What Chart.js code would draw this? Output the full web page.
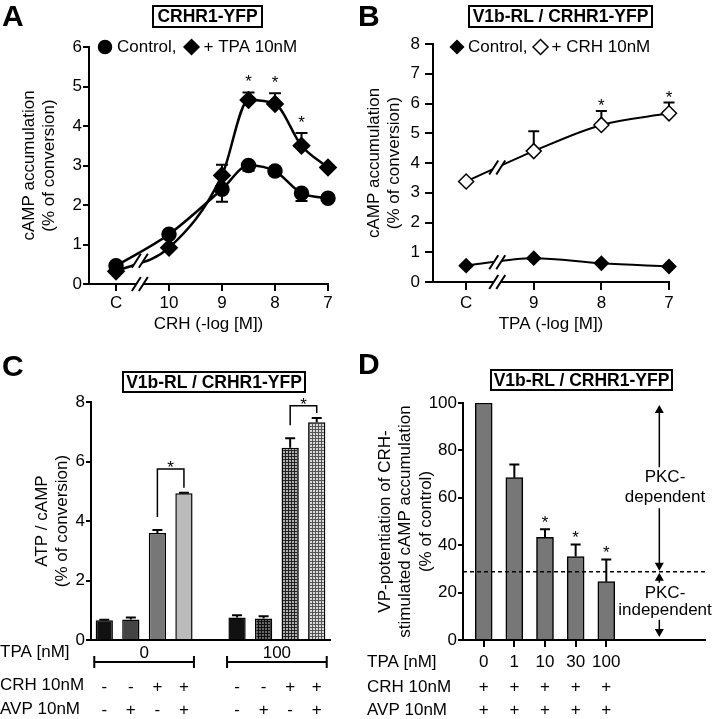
<!DOCTYPE html>
<html>
<head>
<meta charset="utf-8">
<title>CRHR1 / V1b cAMP</title>
<script src="https://cdn.jsdelivr.net/npm/chart.js@4.4.1/dist/chart.umd.min.js"></script>
<style>
  body { margin: 0; background: #fff; font-family: "Liberation Sans", Arial, sans-serif; }
  #fig { position: relative; width: 714px; height: 719px; overflow: hidden; }
  canvas { position: absolute; }
  .letter { position: absolute; font-size: 30px; font-weight: bold; line-height: 30px; }
  .box { position: absolute; box-sizing: border-box; border: 2px solid #000; font-size: 17.5px; font-weight: bold;
         display: flex; align-items: center; justify-content: center; white-space: nowrap; }
</style>
</head>
<body>
<div id="fig">
  <canvas id="chartA" width="357" height="345" style="left:0;top:0"></canvas>
  <canvas id="chartB" width="357" height="345" style="left:357px;top:0"></canvas>
  <canvas id="chartC" width="357" height="374" style="left:0;top:345px"></canvas>
  <canvas id="chartD" width="357" height="374" style="left:357px;top:345px"></canvas>
  <div class="letter" style="left:2px;top:1px">A</div>
  <div class="letter" style="left:358px;top:1px">B</div>
  <div class="letter" style="left:2px;top:351px">C</div>
  <div class="letter" style="left:358px;top:349px">D</div>
  <div class="box" style="left:152px;top:5px;width:111px;height:23px">CRHR1-YFP</div>
  <div class="box" style="left:468px;top:5px;width:185px;height:23px">V1b-RL / CRHR1-YFP</div>
  <div class="box" style="left:122px;top:371px;width:184px;height:22px">V1b-RL / CRHR1-YFP</div>
  <div class="box" style="left:490px;top:369px;width:183px;height:22px">V1b-RL / CRHR1-YFP</div>
</div>
<script>
// ---------- data ----------
// A: CRH dose-response, x = -log[M]; 11 stands for "C" (no CRH)
const aDose = [11, 10, 9, 8.5, 8, 7.5, 7];
const aTicks = [11, 10, 9, 8, 7];
const aTickLabels = ['C', '10', '9', '8', '7'];
const aControl = [0.46, 1.26, 2.4, 3.0, 2.86, 2.3, 2.17];
const aControlSem = [0, 0, 0.32, 0.13, 0, 0.2, 0];
const aTPA = [0.32, 0.92, 2.75, 4.66, 4.56, 3.5, 2.95];
const aTPASem = [0, 0, 0.27, 0.19, 0.27, 0.32, 0];
const aSig = ['', '', '', '*', '*', '*', ''];

// B: TPA dose-response, x = -log[M]; 10 stands for "C"
const bDose = [10, 9, 8, 7];
const bTicks = [10, 9, 8, 7];
const bTickLabels = ['C', '9', '8', '7'];
const bControl = [0.55, 0.8, 0.63, 0.52];
const bCRH = [3.38, 4.4, 5.28, 5.67];
const bCRHSem = [0, 0.67, 0.47, 0.36];
const bSig = ['', '', '*', '*'];

// C: bars, empty slot between the two TPA groups
const cTPA = ['0', '0', '0', '0', null, '100', '100', '100', '100'];
const cCRH = ['-', '-', '+', '+', null, '-', '-', '+', '+'];
const cAVP = ['-', '+', '-', '+', null, '-', '+', '-', '+'];
const cValues = [0.66, 0.69, 3.6, 4.93, null, 0.76, 0.72, 6.46, 7.32];
const cSem = [0.02, 0.07, 0.1, 0.02, 0, 0.07, 0.08, 0.32, 0.14];
const cPairs = [[2, 3], [7, 8]];
const cPairLevels = [5.75, 7.87];

// D: % of control
const dTPA = ['0', '1', '10', '30', '100'];
const dCRH = ['+', '+', '+', '+', '+'];
const dAVP = ['+', '+', '+', '+', '+'];
const dValues = [100, 68.5, 43.3, 35.2, 24.6];
const dSem = [0, 5.6, 3.4, 5.1, 9.4];
const dSig = ['', '', '*', '*', '*'];
const dCut = 28.8;

// ---------- helpers ----------
const black = '#000';
const FONT = '"Liberation Sans", Arial, sans-serif';
Chart.defaults.font.family = FONT;
Chart.defaults.font.size = 17;
Chart.defaults.color = black;

function marker(ctx, style, x, y, r, fill) {
  ctx.save();
  ctx.beginPath();
  if (style === 'circle') ctx.arc(x, y, r, 0, Math.PI * 2);
  else { ctx.moveTo(x - r, y); ctx.lineTo(x, y - r); ctx.lineTo(x + r, y); ctx.lineTo(x, y + r); ctx.closePath(); }
  ctx.fillStyle = fill; ctx.fill();
  ctx.lineWidth = 1.5; ctx.strokeStyle = black; ctx.stroke();
  ctx.restore();
}

function drawBreak(ctx, x, y) {
  const dx = 4.5, dy = 7, g = 3.5;
  ctx.save();
  ctx.fillStyle = '#fff';
  ctx.beginPath();
  ctx.moveTo(x - g - dx, y + dy); ctx.lineTo(x - g + dx, y - dy);
  ctx.lineTo(x + g + dx, y - dy); ctx.lineTo(x + g - dx, y + dy);
  ctx.closePath(); ctx.fill();
  ctx.strokeStyle = black; ctx.lineWidth = 2;
  ctx.beginPath();
  ctx.moveTo(x - g - dx, y + dy); ctx.lineTo(x - g + dx, y - dy);
  ctx.moveTo(x + g - dx, y + dy); ctx.lineTo(x + g + dx, y - dy);
  ctx.stroke();
  ctx.restore();
}

function arrowHead(ctx, x, y, dir) {
  ctx.beginPath();
  ctx.moveTo(x, y); ctx.lineTo(x - 4.5, y - dir * 8); ctx.lineTo(x + 4.5, y - dir * 8);
  ctx.closePath(); ctx.fill();
}

const parsedY = (chart, di, i) => chart.getDatasetMeta(di).controller.getParsed(i).y;

// extra drawing; settings live in chart.data.fig (plain object, not resolved by Chart.js)
const figPlugin = {
  id: 'fig',
  beforeDatasetsDraw(chart) {
    const o = chart.data.fig || {};
    const ctx = chart.ctx, ys = chart.scales.y;
    chart.data.datasets.forEach((ds, di) => {
      if (!ds.sem) return;
      ctx.save();
      ctx.strokeStyle = black; ctx.lineWidth = 2;
      chart.getDatasetMeta(di).data.forEach((el, i) => {
        const v = parsedY(chart, di, i), e = ds.sem[i];
        if (v == null || isNaN(v) || !e) return;
        const y0 = ys.getPixelForValue(v), y1 = ys.getPixelForValue(v + (ds.semDir || 1) * e);
        const h = (o.cap || 11) / 2;
        ctx.beginPath();
        ctx.moveTo(el.x, y0); ctx.lineTo(el.x, y1);
        ctx.moveTo(el.x - h, y1); ctx.lineTo(el.x + h, y1);
        ctx.stroke();
      });
      ctx.restore();
    });
  },
  afterDraw(chart) {
    const o = chart.data.fig || {};
    const ctx = chart.ctx, xs = chart.scales.x, ys = chart.scales.y, area = chart.chartArea;
    ctx.save();
    ctx.fillStyle = black; ctx.strokeStyle = black;
    ctx.font = '17px ' + FONT;

    // significance stars above the error bars
    chart.data.datasets.forEach((ds, di) => {
      if (!ds.sig) return;
      ctx.textAlign = 'center'; ctx.textBaseline = 'alphabetic';
      chart.getDatasetMeta(di).data.forEach((el, i) => {
        if (!ds.sig[i]) return;
        const top = parsedY(chart, di, i) + (ds.sem ? ds.sem[i] : 0);
        ctx.fillText(ds.sig[i], el.x, ys.getPixelForValue(top) - o.starGap + 10);
      });
    });

    // axis / curve breaks
    if (o.breakAt != null) {
      const bx = xs.getPixelForValue(o.breakAt);
      const cuts = [area.bottom];
      (o.breakLines || []).forEach(di => {
        const d = chart.data.datasets[di].data;
        const t = (o.breakAt - d[0].x) / (d[1].x - d[0].x);
        cuts.push(ys.getPixelForValue(d[0].y + t * (d[1].y - d[0].y)));
      });
      cuts.forEach(cy => drawBreak(ctx, bx, cy));
    }

    // legend line with markers
    if (o.legend) {
      let x = o.legend.x;
      ctx.textAlign = 'left'; ctx.textBaseline = 'middle';
      chart.data.datasets.forEach(ds => {
        marker(ctx, ds.pointStyle, x, o.legend.y, ds.pointRadius, ds.pointBackgroundColor);
        x += o.legend.textGap;
        ctx.fillText(ds.label, x, o.legend.y);
        x += ctx.measureText(ds.label).width + o.legend.itemGap;
      });
    }

    // significance brackets (C)
    if (o.pairs) {
      const pts = chart.getDatasetMeta(0).data, ds = chart.data.datasets[0];
      o.pairs.forEach(([a, b], k) => {
        const top = ys.getPixelForValue(o.levels[k]);
        const la = ys.getPixelForValue(ds.data[a] + ds.sem[a]) - 13;
        const lb = ys.getPixelForValue(ds.data[b] + ds.sem[b]) - 5;
        ctx.lineWidth = 1.5;
        ctx.beginPath();
        ctx.moveTo(pts[a].x, la); ctx.lineTo(pts[a].x, top); ctx.lineTo(pts[b].x, top); ctx.lineTo(pts[b].x, lb);
        ctx.stroke();
        ctx.textAlign = 'center'; ctx.textBaseline = 'alphabetic';
        ctx.fillText('*', (pts[a].x + pts[b].x) / 2, top - 6 + 10);
      });
    }

    // treatment rows under the x axis
    if (o.rows) {
      const pts = chart.getDatasetMeta(0).data;
      ctx.textBaseline = 'middle';
      o.rows.forEach(r => {
        const y = area.bottom + r.dy;
        ctx.textAlign = 'left';
        ctx.fillText(r.label, o.labelX, y);
        if (!r.values) return;
        ctx.textAlign = 'center';
        r.values.forEach((s, i) => { if (s) ctx.fillText(s, pts[i].x, y + (r.signDy || 0)); });
      });
    }
    if (o.groups) {
      const pts = chart.getDatasetMeta(0).data, vals = o.groups.values;
      let i = 0;
      while (i < vals.length) {
        if (!vals[i]) { i++; continue; }
        let j = i;
        while (j + 1 < vals.length && vals[j + 1] === vals[i]) j++;
        const x1 = pts[i].x - 10, x2 = pts[j].x + 10, ly = area.bottom + o.groups.lineDy;
        ctx.lineWidth = 2;
        ctx.beginPath();
        ctx.moveTo(x1, ly); ctx.lineTo(x2, ly);
        ctx.moveTo(x1, ly - 6); ctx.lineTo(x1, ly + 6);
        ctx.moveTo(x2, ly - 6); ctx.lineTo(x2, ly + 6);
        ctx.stroke();
        ctx.textAlign = 'center'; ctx.textBaseline = 'middle';
        ctx.fillText(vals[i], (x1 + x2) / 2, area.bottom + o.groups.dy);
        i = j + 1;
      }
    }

    // PKC-dependent / -independent annotation (D)
    if (o.pkc) {
      const p = o.pkc, x = xs.getPixelForValue(p.at), tx = xs.getPixelForValue(p.textAt);
      const yTop = ys.getPixelForValue(ys.max), yCut = ys.getPixelForValue(p.cut), yBot = ys.getPixelForValue(0);
      ctx.save();
      ctx.setLineDash([4, 3]); ctx.lineWidth = 1.5;
      ctx.beginPath(); ctx.moveTo(area.left, yCut); ctx.lineTo(area.right, yCut); ctx.stroke();
      ctx.restore();
      const up = (yTop + yCut) / 2, lo = (yCut + yBot) / 2;
      ctx.textAlign = 'center'; ctx.textBaseline = 'middle';
      p.upper.forEach((t, k) => ctx.fillText(t, tx, up - 10 + k * 20));
      p.lower.forEach((t, k) => ctx.fillText(t, tx, lo - 13 + k * 17));
      ctx.lineWidth = 1.5;
      ctx.beginPath();
      ctx.moveTo(x, yTop + 4); ctx.lineTo(x, up - 20);
      ctx.moveTo(x, up + 21); ctx.lineTo(x, yCut - 4);
      ctx.moveTo(x, yCut + 4); ctx.lineTo(x, lo - 23);
      ctx.moveTo(x, lo + 14); ctx.lineTo(x, yBot - 6);
      ctx.stroke();
      arrowHead(ctx, x, yTop + 2, -1);
      arrowHead(ctx, x, yCut - 1, 1);
      arrowHead(ctx, x, yCut + 1, -1);
      arrowHead(ctx, x, yBot - 3, 1);
    }
    ctx.restore();
  }
};
Chart.register(figPlugin);

function yAxis(o) {
  return {
    min: o.min, max: o.max,
    afterFit: s => { s.width = o.width; },
    border: { color: black, width: 2 },
    grid: { drawOnChartArea: false, tickLength: o.tick, color: black, lineWidth: 2 },
    ticks: { stepSize: o.step, padding: o.pad, color: black },
    title: { display: true, text: o.title, color: black, padding: { top: o.titlePad, bottom: 0 } }
  };
}

function doseAxis(o) {
  return {
    type: 'linear', reverse: true, min: o.min, max: o.max, offset: false,
    afterFit: s => { s.height = o.height; },
    afterBuildTicks: s => { s.ticks = o.ticks.map(v => ({ value: v })); },
    border: { color: black, width: 2 },
    grid: { drawOnChartArea: false, tickLength: o.tick, color: black, lineWidth: 2 },
    ticks: { padding: o.pad, autoSkip: false, maxRotation: 0, callback: (v, i) => o.labels[i] },
    title: { display: true, text: o.title, color: black, padding: { top: 0, bottom: 10 } }
  };
}

function pts(xs, ys) { return xs.map((x, i) => ({ x, y: ys[i] })); }

const lineStyle = { borderColor: black, borderWidth: 2.5, pointBorderColor: black, cubicInterpolationMode: 'monotone', clip: false };
const quiet = { legend: { display: false }, tooltip: { enabled: false } };

// ---------- A ----------
new Chart(document.getElementById('chartA'), {
  type: 'line',
  data: {
    datasets: [
      { ...lineStyle, label: 'Control,', data: pts(aDose, aControl), sem: aControlSem, semDir: -1,
        pointStyle: 'circle', pointRadius: 6.5, pointBackgroundColor: black },
      { ...lineStyle, label: '+ TPA 10nM', data: pts(aDose, aTPA), sem: aTPASem, semDir: 1, sig: aSig,
        pointStyle: 'rectRot', pointRadius: 7.5, pointBackgroundColor: black }
    ],
    fig: { cap: 12, starGap: 15, breakAt: 10.55, breakLines: [1], legend: { x: 105, y: 47, textGap: 12, itemGap: 15 } }
  },
  options: {
    responsive: false, animation: false, events: [],
    layout: { padding: { left: 0, top: 47, right: 29, bottom: 0 } },
    scales: {
      x: doseAxis({ min: 7, max: 11.51, ticks: aTicks, labels: aTickLabels, height: 61, tick: 7, pad: 2, title: 'CRH (-log [M])' }),
      y: yAxis({ min: 0, max: 6, step: 1, width: 89, tick: 6, pad: 1, title: ['cAMP accumulation', '(% of conversion)'], titlePad: 19 })
    },
    plugins: quiet
  }
});

// ---------- B ----------
new Chart(document.getElementById('chartB'), {
  type: 'line',
  data: {
    datasets: [
      { ...lineStyle, borderWidth: 2, label: 'Control,', data: pts(bDose, bControl),
        pointStyle: 'rectRot', pointRadius: 6.5, pointBackgroundColor: black },
      { ...lineStyle, borderWidth: 2, label: '+ CRH 10nM', data: pts(bDose, bCRH), sem: bCRHSem, sig: bSig,
        pointStyle: 'rectRot', pointRadius: 7.5, pointBackgroundColor: '#fff', pointBorderWidth: 1.5 }
    ],
    fig: { cap: 11, starGap: 9.5, breakAt: 9.54, breakLines: [0, 1], legend: { x: 100, y: 47, textGap: 11, itemGap: 13 } }
  },
  options: {
    responsive: false, animation: false, events: [],
    layout: { padding: { left: 0, top: 44, right: 45, bottom: 0 } },
    scales: {
      x: doseAxis({ min: 7, max: 10.49, ticks: bTicks, labels: bTickLabels, height: 63, tick: 8, pad: 3, title: 'TPA (-log [M])' }),
      y: yAxis({ min: 0, max: 8, step: 1, width: 76, tick: 8, pad: 5, title: ['cAMP accumulation', '(% of conversion)'], titlePad: 7 })
    },
    plugins: quiet
  }
});

// ---------- C ----------
const cCtx = document.getElementById('chartC').getContext('2d');
function gridFill(bg, fg) {
  const t = document.createElement('canvas');
  t.width = 3; t.height = 3;
  const g = t.getContext('2d');
  g.fillStyle = bg; g.fillRect(0, 0, 3, 3);
  g.fillStyle = fg; g.fillRect(0, 0, 3, 1); g.fillRect(0, 0, 1, 3);
  return cCtx.createPattern(t, 'repeat');
}
const cFills = ['#111', '#444', '#777', '#bbb', '#fff', '#111',
  gridFill('#666', '#111'), gridFill('#b0b0b0', '#222'), gridFill('#dadada', '#555')];

new Chart(cCtx, {
  type: 'bar',
  data: {
    labels: cAVP.map((_, i) => String(i)),
    datasets: [{ data: cValues, sem: cSem, backgroundColor: cFills, borderColor: black, borderWidth: 1.5,
      barPercentage: 0.65, categoryPercentage: 1 }],
    fig: { cap: 10, pairs: cPairs, levels: cPairLevels, labelX: 0,
      rows: [ { label: 'TPA [nM]', dy: 12 }, { label: 'CRH 10nM', dy: 45, values: cCRH, signDy: 2 }, { label: 'AVP 10nM', dy: 69, values: cAVP, signDy: 1 } ],
      groups: { values: cTPA, dy: 13, lineDy: 22 } }
  },
  options: {
    responsive: false, animation: false, events: [],
    layout: { padding: { left: 0, top: 57, right: 27, bottom: 0 } },
    scales: {
      x: { afterFit: s => { s.height = 79; }, border: { color: black, width: 2 }, grid: { display: false }, ticks: { display: false } },
      y: yAxis({ min: 0, max: 8, step: 2, width: 91, tick: 5, pad: 1, title: ['ATP / cAMP', '(% of conversion)'], titlePad: 32 })
    },
    plugins: quiet
  }
});

// ---------- D ----------
new Chart(document.getElementById('chartD'), {
  type: 'bar',
  data: {
    datasets: [{ data: dValues.map((y, i) => ({ x: i, y })), sem: dSem, sig: dSig, backgroundColor: '#777',
      borderColor: black, borderWidth: 1.5, barThickness: 17 }],
    fig: { cap: 10, starGap: 11, labelX: 10,
      rows: [ { label: 'TPA [nM]', dy: 22 }, { label: 'CRH 10nM', dy: 47, values: dCRH }, { label: 'AVP 10nM', dy: 70, values: dAVP } ],
      pkc: { cut: dCut, at: 5.73, textAt: 5.915, upper: ['PKC-', 'dependent'], lower: ['PKC-', 'independent'] } }
  },
  options: {
    responsive: false, animation: false, events: [],
    layout: { padding: { left: 0, top: 58, right: 9, bottom: 0 } },
    scales: {
      x: { type: 'linear', min: -0.675, max: 7.22, offset: false,
        afterFit: s => { s.height = 79; },
        afterBuildTicks: s => { s.ticks = dTPA.map((_, i) => ({ value: i })); },
        border: { color: black, width: 2 },
        grid: { drawOnChartArea: false, offset: false, tickLength: 7, color: black, lineWidth: 2 },
        ticks: { padding: 5, autoSkip: false, maxRotation: 0, callback: (v, i) => dTPA[i] } },
      y: yAxis({ min: 0, max: 100, step: 20, width: 106, tick: 5, pad: 1,
        title: ['VP-potentiation of CRH-', 'stimulated cAMP accumulation', '(% of control)'], titlePad: 18 })
    },
    plugins: quiet
  }
});
</script>
</body>
</html>
